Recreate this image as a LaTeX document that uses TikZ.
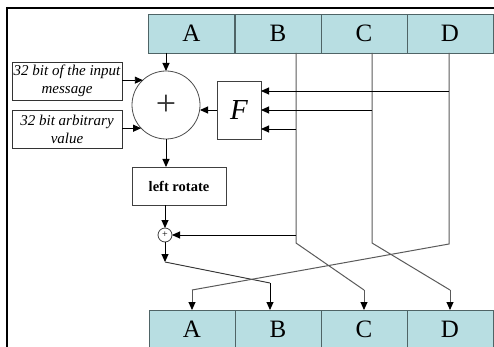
\documentclass[tikz,border=0pt]{standalone}
\usepackage{fontspec}
\setmainfont{Liberation Serif}
\usetikzlibrary{arrows.meta,calc}
\definecolor{regfill}{HTML}{B8DEE2}
\definecolor{regdraw}{HTML}{4F6466}
\definecolor{wire}{HTML}{5A5A5A}
\tikzset{
  cell/.style={draw=regdraw,line width=0.9pt,fill=regfill,minimum width=86pt,minimum height=39pt,inner sep=0pt,outer sep=0pt,font=\fontsize{25}{25}\selectfont},
  inbox/.style={draw=black!80,line width=0.8pt,minimum width=110pt,minimum height=38pt,inner sep=0pt,outer sep=0pt,align=center,font=\fontsize{15}{18.5}\selectfont\itshape},
  fbox/.style={draw=black!75,line width=0.8pt,minimum width=44pt,minimum height=58pt,inner sep=0pt,outer sep=0pt,font=\fontsize{29}{29}\selectfont\itshape},
  rotbox/.style={draw=black!75,line width=0.8pt,minimum width=94pt,minimum height=38pt,inner sep=0pt,outer sep=0pt,font=\fontsize{14.5}{14.5}\selectfont\bfseries},
  arr/.style={line width=0.9pt,-{Triangle[length=8pt,width=7pt,color=black]}},
  wireline/.style={draw=wire,line width=1pt},
}
\begin{document}
\begin{tikzpicture}[x=1pt,y=-1pt]
\useasboundingbox (0,0) rectangle (494,347);
\begin{scope}
\clip (0,0) rectangle (494,347);
% frame
\draw[line width=2.8pt] (6,8) -- (494,8);
\draw[line width=2pt] (7,7) -- (7,347);
% top register
\node[cell] (tA) at (191.5,33.5) {A};
\node[cell] (tB) at (278,33.5) {B};
\node[cell] (tC) at (364,33.5) {C};
\node[cell] (tD) at (450,33.5) {D};
% bottom register
\node[cell] (bA) at (192,329.5) {A};
\node[cell] (bB) at (278,329.5) {B};
\node[cell] (bC) at (364,329.5) {C};
\node[cell] (bD) at (450,329.5) {D};
\end{scope}
% inputs
\node[inbox] (in1) at (67,81) {32 bit of the input\\message};
\node[inbox] (in2) at (67,129.5) {32 bit arbitrary\\value};
% big adder
\node[circle,draw=black!70,line width=0.8pt,minimum size=68pt,inner sep=0pt,outer sep=0pt,font=\fontsize{36}{36}\selectfont,text=black!80] (add) at (166,105) {+};
% F box
\node[fbox] (F) at (239,110) {F};
% left rotate
\node[rotbox] (lr) at (179,186) {left rotate};
% small adder
\node[circle,draw=black!75,line width=0.8pt,minimum size=14pt,inner sep=0pt,outer sep=0pt,font=\fontsize{10}{10}\selectfont] (sa) at (165,235) {+};
% corner coordinates
\coordinate (Bk) at (296,243);
\coordinate (Bd) at (364,290);
\coordinate (Ck) at (372,243);
\coordinate (Cd) at (450,290);
\coordinate (Dk) at (449,244);
\coordinate (Dd) at (192,290);
\coordinate (s1) at (165,262);
\coordinate (s2) at (270,283);
\coordinate (Ft) at (449,91);
\coordinate (Fm) at (372,110);
\coordinate (Fb) at (296,129);
\coordinate (Sb) at (296,235);
% A into adder
\draw[arr] (add.north |- tA.south) -- (add.north);
\draw[arr] (in1.east |- add.133) -- (add.133);
\draw[arr] (in2.east |- add.223) -- (add.223);
\draw[arr] (F.west) -- (F.west -| add.east);
\draw[arr] (add.south) -- (add.south |- lr.north);
\draw[arr] (sa.north |- lr.south) -- (sa.north);
\draw[arr] (sa.south) -- (s1);
\draw[line width=0.9pt,draw=black!80] (s1) -- (s2);
\draw[arr] (s2) -- (s2 |- bB.north);
% wires from B, C, D
\draw[wireline] (Bk |- tB.south) -- (Bk) -- (Bd);
\draw[arr,draw=wire] (Bd) -- (bC.north);
\draw[wireline] (Ck |- tC.south) -- (Ck) -- (Cd);
\draw[arr,draw=wire] (Cd) -- (bD.north);
\draw[wireline] (Dk |- tD.south) -- (Dk) -- (Dd);
\draw[arr,draw=wire] (Dd) -- (bA.north);
% taps into F
\draw[arr] (Ft) -- (Ft -| F.east);
\draw[arr] (Fm) -- (Fm -| F.east);
\draw[arr] (Fb) -- (Fb -| F.east);
\draw[arr] (Sb) -- (sa.east);
\end{tikzpicture}
\end{document}
